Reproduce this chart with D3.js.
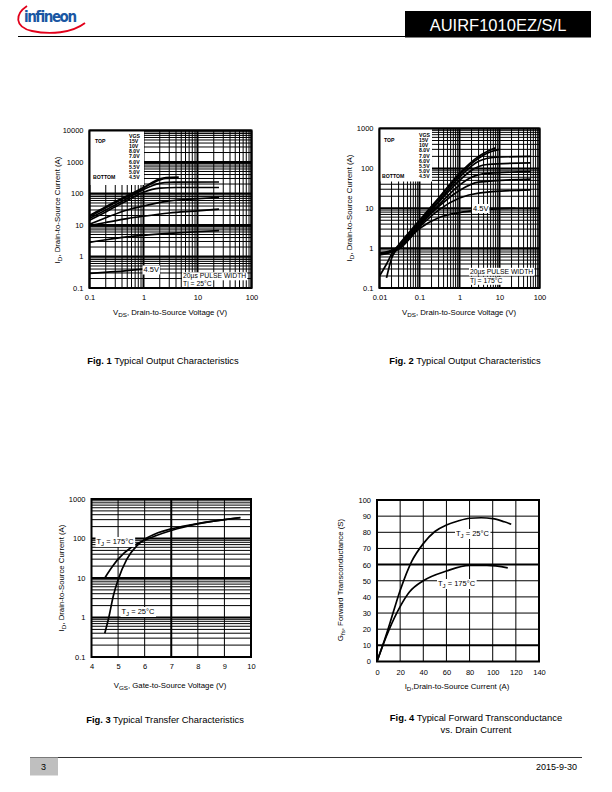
<!DOCTYPE html>
<html><head><meta charset="utf-8">
<script src="https://cdn.jsdelivr.net/npm/d3@7"></script>
<style>body{margin:0;background:#fff}</style>
</head><body>
<svg id="page" width="612" height="792" xmlns="http://www.w3.org/2000/svg"></svg>
<script>
// ---------------- DATA ----------------
const vgsLabels = ["15V","10V","8.0V","7.0V","6.0V","5.5V","5.0V","4.5V"];

// Fig 1 : Tj = 25°C  [VDS (V), ID (A)]
const fig1_15V = [[0.1,20],[0.2,38],[0.5,85],[1,155],[2,290],[2.6,320],[4.5,330]];
const fig1_10V = [[0.1,18],[0.2,35],[0.5,80],[1,150],[2,270],[2.6,300],[4,305]];
const fig1_8V  = [[0.1,16],[0.2,30],[0.5,70],[1,135],[2,210],[3,228],[25,232]];
const fig1_7V  = [[0.1,14],[0.2,26],[0.5,60],[1,110],[2,148],[4,155],[25,155]];
const fig1_6V  = [[0.1,10.5],[0.2,17],[0.5,30],[1,40],[3,58],[10,68],[25,75]];
const fig1_55V = [[0.1,9.5],[0.2,12],[0.5,16],[1,19],[3,24],[10,28],[25,32]];
const fig1_5V  = [[0.1,2.8],[0.2,3.4],[0.5,4.2],[1,4.7],[3,5.4],[10,6.1],[25,6.6]];
const fig1_45V = [[0.1,0.29],[0.3,0.33],[1,0.4]];

// Fig 2 : Tj = 175°C
const fig2_15V = [[0.01,0.2],[0.015,0.4],[0.02,0.7],[0.03,1.2],[0.1,5],[0.3,18],[1,75],[3,200],[8,330]];
const fig2_10V = [[0.015,0.18],[0.02,0.55],[0.03,1.05],[0.1,4.6],[0.3,17],[1,70],[3,180],[6,260],[10,300]];
const fig2_8V  = [[0.01,0.7],[0.02,0.85],[0.03,1.1],[0.1,4.3],[0.3,15],[1,60],[3,150],[8,190],[60,200]];
const fig2_7V  = [[0.01,0.7],[0.03,1.05],[0.1,4.1],[0.3,14],[1,50],[2,90],[5,125],[60,138]];
const fig2_6V  = [[0.01,0.72],[0.03,1.0],[0.1,3.9],[0.3,12],[1,38],[2,60],[5,75],[60,83]];
const fig2_55V = [[0.01,0.75],[0.03,1.0],[0.1,3.7],[0.3,11],[1,28],[3,45],[60,54]];
const fig2_5V  = [[0.01,0.7],[0.03,0.95],[0.1,3.4],[0.3,9],[1,18],[3,24],[60,29]];
const fig2_45V = [[0.01,0.68],[0.03,0.95],[0.1,3.1],[0.3,5.8],[1,7.8],[3,9],[25,10]];

// Fig 3 : transfer [VGS (V), ID (A)]
const fig3_Tj25  = [[4.5,0.4],[4.65,1],[4.82,3.5],[5.0,9],[5.33,30],[5.7,65],[6,95],[6.5,140],[7,175],[8,240],[9,300],[9.6,340]];
const fig3_Tj175 = [[4.5,10],[4.8,20],[5.0,30],[5.5,60],[6,90],[7,160],[8,235],[9,300],[9.6,335]];

// Fig 4 : transconductance [ID (A), gfs (S)]
const fig4_Tj25  = [[0,0],[5,10],[10,21],[20,44],[30,62],[40,73],[50,80.5],[60,84.5],[70,87],[80,88.7],[90,89],[100,88.5],[110,86.5],[116,85]];
const fig4_Tj175 = [[0,0],[5,10],[10,19],[20,34],[28,43],[40,50],[60,56],[80,59.5],[95,59.5],[113,58]];

// tick values
const fig1XTicks = [0.1,1,10,100];
const fig1YTicks = [0.1,1,10,100,1000,10000];
const fig2XTicks = [0.01,0.1,1,10,100];
const fig2YTicks = [0.1,1,10,100,1000];
const fig3XTicks = [4,5,6,7,8,9,10];
const fig3YTicks = [0.1,1,10,100,1000];
const fig4XTicks = [0,20,40,60,80,100,120,140];
const fig4YTicks = [0,10,20,30,40,50,60,70,80,90,100];

// ---------------- DRAW ----------------
const FONT = "'Liberation Sans', Arial, Helvetica, sans-serif";
const svg = d3.select('#page').style('font-family', FONT);

function logVals(lo, hi){
  const out=[];
  for(let e=Math.round(Math.log10(lo)); e<Math.round(Math.log10(hi)); e++){
    for(let k=1;k<10;k++) out.push(+(k*Math.pow(10,e)).toPrecision(6));
  }
  out.push(hi);
  return out;
}
const isDecade = v => Math.abs(Math.log10(v)-Math.round(Math.log10(v)))<1e-9;

function textBg(g, sel){
  const b = sel.node().getBBox();
  g.insert('rect', () => sel.node()).attr('x', b.x-1).attr('y', b.y).attr('width', b.width+2).attr('height', b.height).attr('fill','#fff');
}

let clipId = 0;
function drawPanel(p){
  const g = svg.append('g');
  const [xl,xr] = p.x.range(), [yb,yt] = p.y.range();
  g.append('rect').attr('x',xl).attr('y',yt).attr('width',xr-xl).attr('height',yb-yt).attr('fill','#fff');
  p.vGrid.forEach(v=>{
    const X=p.x(v);
    g.append('line').attr('x1',X).attr('x2',X).attr('y1',yt).attr('y2',yb)
      .attr('stroke','#000').attr('stroke-width', p.vMajor(v)?2:1);
  });
  p.hGrid.forEach(v=>{
    const Y=p.y(v);
    g.append('line').attr('x1',xl).attr('x2',xr).attr('y1',Y).attr('y2',Y)
      .attr('stroke','#000').attr('stroke-width', p.hMajor(v)?2:1);
  });
  if(p.under) p.under(g);
  const id = 'clip'+(clipId++);
  g.append('clipPath').attr('id',id).append('rect').attr('x',xl).attr('y',yt).attr('width',xr-xl).attr('height',yb-yt);
  const line = d3.line().x(d=>p.x(d[0])).y(d=>p.y(d[1])).curve(d3.curveMonotoneX);
  const cg = g.append('g').attr('clip-path',`url(#${id})`);
  p.series.forEach(s=>{
    cg.append('path').attr('d', line(s)).attr('fill','none').attr('stroke','#000').attr('stroke-width',1.7);
  });
  if(p.over) p.over(g);
  g.append('rect').attr('x',xl).attr('y',yt).attr('width',xr-xl).attr('height',yb-yt)
    .attr('fill','none').attr('stroke','#000').attr('stroke-width',2);
  // axes
  const ax = g.append('g').attr('transform',`translate(0,${yb})`)
    .call(d3.axisBottom(p.x).tickValues(p.xTicks).tickFormat(d=>String(d)).tickSize(0).tickPadding(p.xPad||7));
  const ay = g.append('g').attr('transform',`translate(${xl},0)`)
    .call(d3.axisLeft(p.y).tickValues(p.yTicks).tickFormat(d=>String(d)).tickSize(0).tickPadding(p.yPad||6));
  [ax,ay].forEach(a=>{
    a.select('.domain').remove();
    a.selectAll('text').attr('font-size',7.5).attr('font-family',FONT).attr('fill','#000');
  });
  return g;
}

function subLabel(g, x, y, main, sub, rest, rotate, size){
  const t = g.append('text').attr('x',x).attr('y',y).attr('text-anchor','middle')
    .attr('font-size',size||7.8).attr('fill','#000');
  if(rotate) t.attr('transform',`rotate(-90,${x},${y})`);
  t.append('tspan').text(main);
  t.append('tspan').attr('font-size',(size||7.8)*0.8).attr('dy',2).text(sub);
  t.append('tspan').attr('dy',-2).text(rest);
  return t;
}

function legend(g, xLeft, yTop, boxR, boxB, textX, topX, yStart, step){
  g.append('rect').attr('x',xLeft).attr('y',yTop).attr('width',boxR-xLeft).attr('height',boxB-yTop).attr('fill','#fff');
  const items = ['VGS'].concat(vgsLabels);
  items.forEach((s,i)=>{
    g.append('text').attr('x',textX).attr('y',yStart+i*step).attr('dominant-baseline','middle')
      .attr('font-size',5.2).attr('font-weight','bold').text(s);
  });
  g.append('text').attr('x',topX).attr('y',yStart+step).attr('dominant-baseline','middle').attr('font-size',5.2).attr('font-weight','bold').text('TOP');
  g.append('text').attr('x',topX-2).attr('y',yStart+8*step).attr('dominant-baseline','middle').attr('font-size',5.2).attr('font-weight','bold').text('BOTTOM');
}

function bgText(g, x, y, str, size){
  const t = g.append('text').attr('x',x).attr('y',y).attr('dominant-baseline','middle').attr('font-size',size).text(str);
  textBg(g,t); return t;
}
function tjLabel(g, x, y, temp){
  const t = g.append('text').attr('x',x).attr('y',y).attr('font-size',7.5);
  t.append('tspan').text('T');
  t.append('tspan').attr('font-size',6).attr('dy',2).text('J');
  t.append('tspan').attr('dy',-2).text(' = '+temp);
  textBg(g,t);
}

// ---- Fig 1
const x1 = d3.scaleLog().domain([0.1,100]).range([89.5,251.5]);
const y1 = d3.scaleLog().domain([0.1,10000]).range([288,130.5]);
drawPanel({x:x1, y:y1, xTicks:fig1XTicks, yTicks:fig1YTicks,
  vGrid:logVals(0.1,100), hGrid:logVals(0.1,10000), vMajor:isDecade, hMajor:isDecade,
  series:[fig1_15V,fig1_10V,fig1_8V,fig1_7V,fig1_6V,fig1_55V,fig1_5V,fig1_45V],
  under:g=>legend(g,89.5,130.5,144,185,129,95,136.5,5.15),
  over:g=>{
    bgText(g,143.5,270.5,'4.5V',7.5);
    bgText(g,183,276.5,'20µs PULSE WIDTH',6.8);
    bgText(g,183,284,'Tj = 25°C',6.8);
  }});
subLabel(svg,60,210,'I','D',', Drain-to-Source Current (A)',true);
subLabel(svg,170,315,'V','DS',', Drain-to-Source Voltage (V)',false);

// ---- Fig 2
const x2 = d3.scaleLog().domain([0.01,100]).range([379.5,539.5]);
const y2 = d3.scaleLog().domain([0.1,1000]).range([288,128.5]);
drawPanel({x:x2, y:y2, xTicks:fig2XTicks, yTicks:fig2YTicks,
  vGrid:logVals(0.01,100), hGrid:logVals(0.1,1000), vMajor:isDecade, hMajor:isDecade,
  series:[fig2_15V,fig2_10V,fig2_8V,fig2_7V,fig2_6V,fig2_55V,fig2_5V,fig2_45V],
  under:g=>legend(g,379.5,128.5,432,181.5,419,384,135.5,5.2),
  over:g=>{
    bgText(g,473,209,'4.5V',7.5);
    bgText(g,470,272,'20µs PULSE WIDTH',6.8);
    bgText(g,470,281,'Tj = 175°C',6.8);
  }});
subLabel(svg,352,208,'I','D',', Drain-to-Source Current (A)',true);
subLabel(svg,459,315,'V','DS',', Drain-to-Source Voltage (V)',false);

// ---- Fig 3
const x3 = d3.scaleLinear().domain([4,10]).range([91.5,251]);
const y3 = d3.scaleLog().domain([0.1,1000]).range([657,499]);
drawPanel({x:x3, y:y3, xTicks:fig3XTicks, yTicks:fig3YTicks,
  vGrid:[5,6,7,8,9], hGrid:logVals(0.1,1000), vMajor:v=>v===7, hMajor:isDecade,
  series:[fig3_Tj25, fig3_Tj175], xPad:7,
  over:g=>{
    tjLabel(g,96.5,544,'175°C');
    tjLabel(g,121.5,614,'25°C');
  }});
subLabel(svg,64,578,'I','D',', Drain-to-Source Current (A)',true);
subLabel(svg,170,688,'V','GS',', Gate-to-Source Voltage (V)',false);

// ---- Fig 4
const x4 = d3.scaleLinear().domain([0,140]).range([377,539]);
const y4 = d3.scaleLinear().domain([0,100]).range([661.5,500]);
drawPanel({x:x4, y:y4, xTicks:fig4XTicks, yTicks:fig4YTicks,
  vGrid:[20,40,60,80,100,120], hGrid:[10,20,30,40,50,60,70,80,90], vMajor:v=>false, hMajor:v=>v===10||v===60,
  series:[fig4_Tj25, fig4_Tj175], xPad:8,
  over:g=>{
    tjLabel(g,456,536,'25°C');
    tjLabel(g,438,586,'175°C');
  }});
subLabel(svg,343,580,'G','fs',', Forward Transconductance (S)',true);
subLabel(svg,457,689,'I','D',',Drain-to-Source Current (A)',false);

// ---- captions
function caption(x, y, bold, rest){
  const t = svg.append('text').attr('x',x).attr('y',y).attr('text-anchor','middle').attr('font-size',9.4).attr('fill','#000');
  t.append('tspan').attr('font-weight','bold').text(bold);
  t.append('tspan').text(rest);
}
caption(163,364,'Fig. 1',' Typical Output Characteristics');
caption(465,364,'Fig. 2',' Typical Output Characteristics');
caption(165,723,'Fig. 3',' Typical Transfer Characteristics');
caption(476,721,'Fig. 4',' Typical Forward Transconductance');
svg.append('text').attr('x',476).attr('y',733).attr('text-anchor','middle').attr('font-size',9.4).text('vs. Drain Current');

// ---- header
svg.append('line').attr('x1',18).attr('x2',406).attr('y1',36.5).attr('y2',36.5).attr('stroke','#000').attr('stroke-width',1);
svg.append('rect').attr('x',405).attr('y',11).attr('width',186).attr('height',26.5).attr('fill','#000');
svg.append('text').attr('x',498).attr('y',30.5).attr('text-anchor','middle').attr('font-size',16.5).attr('fill','#fff').text('AUIRF1010EZ/S/L');
svg.append('path').attr('d','M27,6 C15,14 14,27 32,31 C50,35 72,33 85,23')
  .attr('fill','none').attr('stroke','#e2001a').attr('stroke-width',1.8);
svg.append('text').attr('x',24).attr('y',22).attr('font-size',15).attr('font-weight','bold')
  .attr('font-family',"'DejaVu Sans Condensed','Liberation Sans Narrow','DejaVu Sans',sans-serif")
  .attr('fill','#1a57a3').attr('textLength',53).text('infineon');

// ---- footer
svg.append('line').attr('x1',30).attr('x2',582).attr('y1',757.5).attr('y2',757.5).attr('stroke','#000').attr('stroke-width',0.8);
svg.append('rect').attr('x',30).attr('y',757.5).attr('width',28).attr('height',18).attr('fill','#bfbfbf');
svg.append('text').attr('x',41).attr('y',770).attr('font-size',9).text('3');
svg.append('text').attr('x',577).attr('y',770).attr('text-anchor','end').attr('font-size',9).text('2015-9-30');
</script>
</body></html>
